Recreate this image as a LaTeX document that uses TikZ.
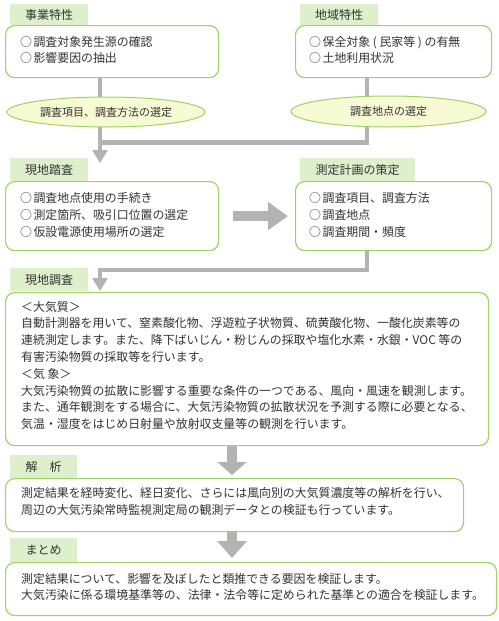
\documentclass[tikz,border=0pt]{standalone}
\usepackage{fontspec}
\setmainfont{Noto Sans CJK JP}
\usetikzlibrary{arrows.meta,shapes.geometric,backgrounds}
\definecolor{bordergreen}{HTML}{A0D264}
\definecolor{tabgreen}{HTML}{DDF0CB}
\definecolor{ellfill}{HTML}{F7FBD3}
\definecolor{conngray}{HTML}{B3B3B3}
\definecolor{txt}{HTML}{333333}
\begin{document}
\begin{tikzpicture}[x=1pt,y=-1pt,
 box/.style={draw=bordergreen,line width=1.2pt,fill=white,rounded corners=9pt,inner sep=0,anchor=north west},
 tab/.style={fill=tabgreen,inner sep=0,anchor=north west,text=txt,font=\fontsize{12}{14}\selectfont},
 body/.style={anchor=west,align=left,inner sep=0,text=txt,font=\fontsize{11.9}{16.8}\selectfont},
 oval/.style={ellipse,draw=bordergreen,line width=1pt,fill=ellfill,inner sep=0,text=txt,font=\fontsize{11}{13}\selectfont},
 conn/.style={draw=conngray,line width=4.5pt},
 fat/.style={draw=conngray,line width=10pt}]
\useasboundingbox (0,0) rectangle (498,621);

% boxes
\node[box,minimum width=213pt,minimum height=52pt] (b1) at (5,25) {};
\node[box,minimum width=196pt,minimum height=52pt] (b2) at (295,25) {};
\node[box,minimum width=213pt,minimum height=69pt] (b3) at (5,181) {};
\node[box,minimum width=196pt,minimum height=69pt] (b4) at (295,181) {};
\node[box,minimum width=483pt,minimum height=153pt] (b5) at (5,292) {};
\node[box,minimum width=458pt,minimum height=53pt] (b6) at (5,478) {};
\node[box,minimum width=491pt,minimum height=53pt] (b7) at (5,562) {};

% tabs
\node[tab,minimum width=78pt,minimum height=21pt] (t1) at (10,4) {事業特性};
\node[tab,minimum width=78pt,minimum height=21pt] (t2) at (300,4) {地域特性};
\node[tab,minimum width=78pt,minimum height=23pt] (t3) at (10,158) {現地踏査};
\node[tab,minimum width=115pt,minimum height=23pt] (t4) at (300,158) {測定計画の策定};
\node[tab,minimum width=78pt,minimum height=23pt] (t5) at (10,268) {現地調査};
\node[tab,minimum width=67pt,minimum height=23pt] (t6) at (10,455) {解　析};
\node[tab,minimum width=67pt,minimum height=24pt] (t7) at (10,538) {まとめ};

% ellipses
\node[oval,minimum width=198pt,minimum height=30pt] (e1) at (106,112) {調査項目、調査方法の選定};
\node[oval,minimum width=195pt,minimum height=31pt] (e2) at (388.5,111.5) {調査地点の選定};

% texts
\node[body] (x1) at (20,50) {○\hspace{1.5pt}調査対象発生源の確認\\○\hspace{1.5pt}影響要因の抽出};
\node[body] (x2) at (309,50) {○\hspace{1.5pt}保全対象 ( 民家等 ) の有無\\○\hspace{1.5pt}土地利用状況};
\node[body] (x3) at (20,215) {○\hspace{1.5pt}調査地点使用の手続き\\○\hspace{1.5pt}測定箇所、吸引口位置の選定\\○\hspace{1.5pt}仮設電源使用場所の選定};
\node[body] (x4) at (309,215) {○\hspace{1.5pt}調査項目、調査方法\\○\hspace{1.5pt}調査地点\\○\hspace{1.5pt}調査期間・頻度};
\node[body] (x5) at (21,365.5) {＜大気質＞\\
自動計測器を用いて、窒素酸化物、浮遊粒子状物質、硫黄酸化物、一酸化炭素等の\\
連続測定します。また、降下ばいじん・粉じんの採取や塩化水素・水銀・VOC 等の\\
有害汚染物質の採取等を行います。\\
＜気 象＞\\
大気汚染物質の拡散に影響する重要な条件の一つである、風向・風速を観測します。\\
また、通年観測をする場合に、大気汚染物質の拡散状況を予測する際に必要となる、\\
気温・湿度をはじめ日射量や放射収支量等の観測を行います。};
\node[body] (x6) at (21,501.5) {測定結果を経時変化、経日変化、さらには風向別の大気質濃度等の解析を行い、\\
周辺の大気汚染常時監視測定局の観測データとの検証も行っています。};
\node[body] (x7) at (21,587) {測定結果について、影響を及ぼしたと類推できる要因を検証します。\\
大気汚染に係る環境基準等の、法律・法令等に定められた基準との適合を検証します。};

% connector points
\coordinate (j1) at (100,142.5);
\coordinate (j2) at (367,142.5);
\coordinate (a1) at (100,163);
\coordinate (j3) at (100,270);
\coordinate (j4) at (367,270);
\coordinate (a2) at (100,291);
\coordinate (d1) at (232,475);
\coordinate (d2) at (232,558);

\begin{pgfonlayer}{background}
\fill[white] (0,0) rectangle (498,621);
\draw[conn,-{Triangle[width=15pt,length=13pt]}] (b1.south -| j1) -- (a1);
\draw[conn] (b2.south -| j2) -- (j2) -- (j1);
\draw[conn,-{Triangle[width=15pt,length=13pt]}] (b4.south -| j4) -- (j4) -- (j3) -- (a2);
\draw[fat,-{Triangle[width=27pt,length=20pt]}] ([xshift=14pt]b3.east) -- ([xshift=-7pt]b4.west);
\draw[fat,-{Triangle[width=29pt,length=13pt]}] (b5.south -| d1) -- (d1);
\draw[fat,-{Triangle[width=29pt,length=17pt]}] (b6.south -| d2) -- (d2);
\end{pgfonlayer}
\end{tikzpicture}
\end{document}
